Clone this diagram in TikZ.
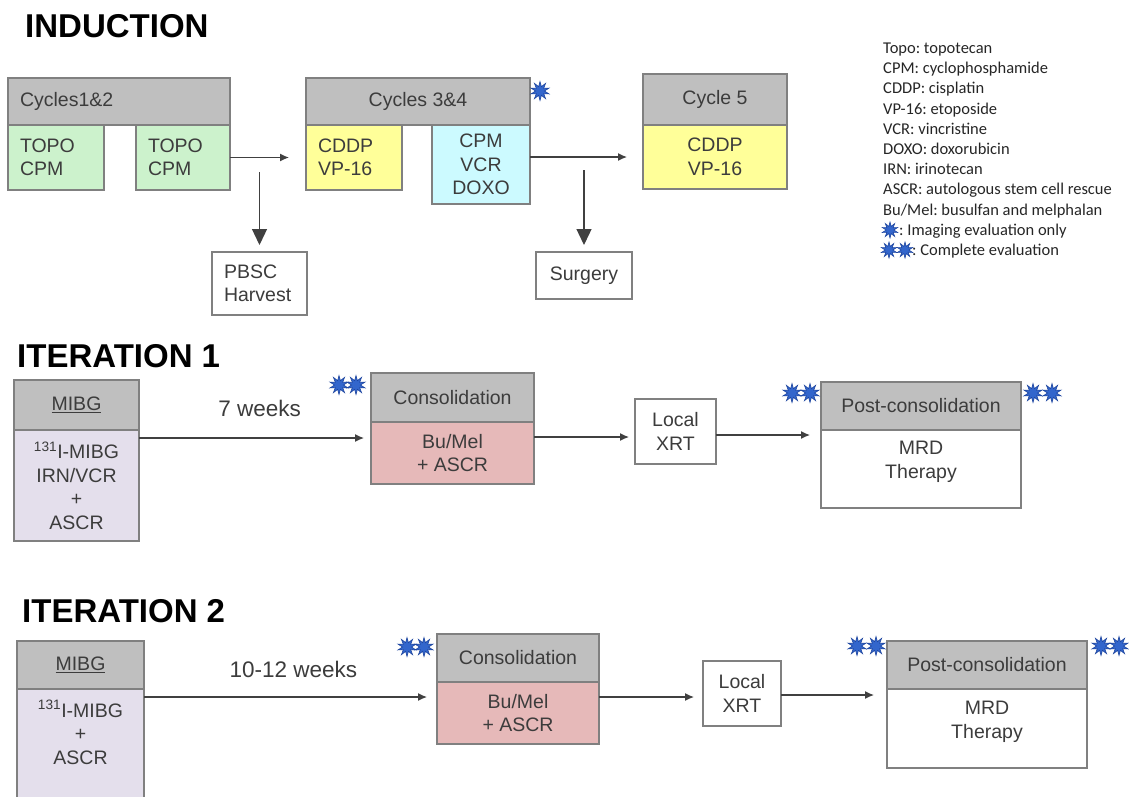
\documentclass[tikz,border=0pt]{standalone}
\usepackage{fontspec}
\setmainfont{Liberation Sans}
\newfontfamily\legfont{Carlito}
\usetikzlibrary{positioning,arrows.meta,shapes.geometric,calc}

\definecolor{hdrgray}{RGB}{191,191,191}
\definecolor{boxline}{RGB}{128,128,128}
\definecolor{topogreen}{RGB}{204,242,204}
\definecolor{cddpyellow}{RGB}{255,255,153}
\definecolor{doxocyan}{RGB}{204,250,255}
\definecolor{melpink}{RGB}{230,185,185}
\definecolor{mibglav}{RGB}{228,223,236}
\definecolor{starblue}{RGB}{51,102,204}
\definecolor{stardark}{RGB}{30,70,160}
\definecolor{txtgray}{RGB}{60,60,60}

\frenchspacing

\begin{document}
\begin{tikzpicture}[
    x=1pt, y=-1pt,
    font=\fontsize{19.5}{23.5}\selectfont,
    % Node styles
    box/.style={draw=boxline, line width=1.3pt, inner sep=0pt, outer sep=0pt, text=txtgray, align=center},
    leftbox/.style={align=left, text width=#1, inner xsep=12pt},
    hdr/.style={box, fill=hdrgray},
    plain/.style={box, fill=white},
    topobox/.style={box, fill=topogreen},
    cddpbox/.style={box, fill=cddpyellow},
    doxobox/.style={box, fill=doxocyan},
    melbox/.style={box, fill=melpink},
    mibgbox/.style={box, fill=mibglav},
    bodytxt/.style={anchor=north, inner sep=0pt, text=txtgray, align=center},
    title/.style={font=\fontsize{33}{38}\selectfont\bfseries, inner sep=0pt, anchor=base west},
    weeks/.style={font=\fontsize{22.5}{27}\selectfont, inner sep=0pt, text=txtgray},
    legtxt/.style={font=\legfont\fontsize{16.5}{20}\selectfont, inner sep=0pt, text=black!85, anchor=base west},
    evstar/.style={star, star points=10, star point ratio=2.1, minimum size=19pt, inner sep=0pt, fill=starblue, draw=stardark, line width=0.6pt},
    arrow/.style={-{Latex[length=9pt,width=8pt]}, line width=1.3pt, draw=black!75},
    bigarrow/.style={-{Triangle[length=16pt,width=15pt]}, line width=1.3pt, draw=black!75},
]
    \useasboundingbox (0,0) rectangle (1129,796);
    \fill[white] (0,0) rectangle (1129,796);
    \clip (0,0) rectangle (1129,796);

    % Induction
    \node[title] (tind) at (25,37) {INDUCTION};
    \node[hdr, leftbox=198pt, minimum height=47pt] (cyc12) at (119,101.5) {Cycles1\&2};
    \node[topobox, leftbox=72pt, minimum height=65pt, anchor=north west] (topo1) at (cyc12.south west) {TOPO\\CPM};
    \node[topobox, leftbox=70pt, minimum height=65pt, anchor=north east] (topo2) at (cyc12.south east) {TOPO\\CPM};
    \node[plain, leftbox=71pt, minimum height=63pt] (pbsc) at (259.5,283.5) {PBSC\\Harvest};

    \node[hdr, minimum width=224pt, minimum height=47pt] (cyc34) at (418,101.5) {Cycles 3\&4};
    \node[cddpbox, leftbox=72pt, minimum height=65pt, anchor=north west] (cddp34) at (cyc34.south west) {CDDP\\VP-16};
    \node[doxobox, minimum width=98pt, minimum height=79pt, anchor=north east] (doxo34) at (cyc34.south east) {CPM\\VCR\\DOXO};
    \node[plain, minimum width=96pt, minimum height=47pt] (surgery) at (584,275.5) {Surgery};

    \node[hdr, minimum width=144pt, minimum height=51pt] (cyc5) at (715,99.5) {Cycle 5};
    \node[cddpbox, minimum width=144pt, minimum height=64pt, below=0pt of cyc5] (cddp5) {CDDP\\VP-16};

    % Induction connections
    \draw[arrow, shorten >=17pt] (topo2) -- (cddp34);
    \draw[arrow, shorten >=16pt] (doxo34.east |- cddp5) -- (cddp5);
    \coordinate (pbtop) at ([yshift=80pt]pbsc.north);
    \draw[bigarrow, shorten >=7pt] (pbtop) -- (pbsc);
    \coordinate (sgtop) at ([yshift=82pt]surgery.north);
    \draw[bigarrow, shorten >=7pt] (sgtop) -- (surgery);

    % Iteration 1
    \node[title] (tit1) at (17,367) {ITERATION 1};
    \node[hdr, minimum width=125pt, minimum height=50pt] (mibg1) at (76.5,405) {\underline{MIBG}};
    \node[mibgbox, minimum width=125pt, minimum height=111pt, below=0pt of mibg1] (mibgb1) {\textsuperscript{131}I-MIBG\\IRN/VCR\\+\\ASCR};
    \node[hdr, minimum width=163pt, minimum height=49pt] (cons1) at (452.5,397.5) {Consolidation};
    \node[melbox, minimum width=163pt, minimum height=62pt, below=0pt of cons1] (consb1) {Bu/Mel\\+ ASCR};
    \node[plain, minimum width=81pt, minimum height=65pt] (xrt1) at (675.5,431.5) {Local\\XRT};
    \node[hdr, minimum width=200pt, minimum height=48pt] (post1) at (921,406) {Post-consolidation};
    \node[plain, minimum width=200pt, minimum height=78pt, below=0pt of post1] (postb1) {};
    \node[bodytxt] (mrd1) at ([yshift=-11pt]postb1.north) {MRD\\Therapy};

    % Iteration 1 connections
    \draw[arrow, shorten >=7pt] ([yshift=-8pt]mibgb1.north east) -- ([yshift=-16pt]consb1.north west)
        node[weeks, pos=0.52, above=21pt] (wk1) {7 weeks};
    \draw[arrow, shorten >=6pt] ([yshift=-15pt]consb1.north east) -- ([yshift=-5.5pt]xrt1.west);
    \draw[arrow, shorten >=11pt] ([yshift=-3.5pt]xrt1.east) -- ([yshift=-5pt]postb1.north west);

    % Iteration 2
    \node[title] (tit2) at (22,622) {ITERATION 2};
    \node[hdr, minimum width=127pt, minimum height=48pt] (mibg2) at (80.5,665) {\underline{MIBG}};
    \node[mibgbox, minimum width=127pt, minimum height=115pt, below=0pt of mibg2] (mibgb2) {};
    \node[bodytxt] (mibgt2) at ([yshift=-11pt]mibgb2.north) {\textsuperscript{131}I-MIBG\\+\\ASCR};
    \node[hdr, minimum width=162pt, minimum height=48pt] (cons2) at (518,658) {Consolidation};
    \node[melbox, minimum width=162pt, minimum height=62pt, below=0pt of cons2] (consb2) {Bu/Mel\\+ ASCR};
    \node[plain, minimum width=78pt, minimum height=65pt] (xrt2) at (742,693.5) {Local\\XRT};
    \node[hdr, minimum width=200pt, minimum height=48pt] (post2) at (987,665) {Post-consolidation};
    \node[plain, minimum width=200pt, minimum height=79pt, below=0pt of post2] (postb2) {};
    \node[bodytxt] (mrd2) at ([yshift=-12pt]postb2.north) {MRD\\Therapy};

    % Iteration 2 connections
    \draw[arrow, shorten >=10pt] ([yshift=-8pt]mibgb2.north east) -- ([yshift=-15pt]consb2.north west)
        node[weeks, pos=0.51, above=19pt] (wk2) {10-12 weeks};
    \draw[arrow, shorten >=9pt] ([yshift=-15pt]consb2.north east) -- ([yshift=-3.5pt]xrt2.west);
    \draw[arrow, shorten >=13pt] ([yshift=-1.5pt]xrt2.east) -- ([yshift=-6pt]postb2.north west);

    % Evaluation stars
    \foreach \sx/\sy [count=\k] in {540/91, 339/385, 356/385, 792/393, 810/393, 1033/393, 1052/393,
        407/647, 424/647, 857/646, 876/646, 1101/646, 1119/646}
        \node[evstar] (st\k) at (\sx,\sy) {};

    % Legend
    \foreach \txt [count=\i from 0] in {Topo: topotecan, CPM: cyclophosphamide, CDDP: cisplatin,
        VP-16: etoposide, VCR: vincristine, DOXO: doxorubicin, IRN: irinotecan,
        ASCR: autologous stem cell rescue, Bu/Mel: busulfan and melphalan}
        \node[legtxt] (leg\i) at (883,53.5+20.2*\i) {\txt};
    \node[evstar, minimum size=16pt] (lgst1) at (890,230) {};
    \node[legtxt] (leg9) at (899,235.3) {: Imaging evaluation only};
    \node[evstar, minimum size=16pt] (lgst2) at (889,250) {};
    \node[evstar, minimum size=16pt] (lgst3) at (905,250) {};
    \node[legtxt] (leg10) at (912,255.5) {: Complete evaluation};

\end{tikzpicture}
\end{document}
